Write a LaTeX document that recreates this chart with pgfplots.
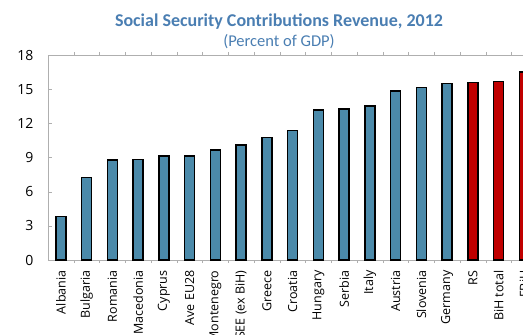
\documentclass[border=0pt]{standalone}
\usepackage{pgfplots}
\pgfplotsset{compat=1.18}
\usepackage{fontspec}
\setmainfont{Open Sans}
\newfontfamily\titlefont{Carlito}
\definecolor{barblue}{RGB}{75,138,170}
\definecolor{barred}{RGB}{192,0,0}
\definecolor{titleblue}{RGB}{74,126,178}
\definecolor{axgray}{RGB}{175,175,175}
\begin{document}
\begin{tikzpicture}
\useasboundingbox (0pt,0pt) rectangle (523pt,335pt);
\clip (0pt,0pt) rectangle (523pt,335pt);
\node[font=\titlefont\bfseries\fontsize{18}{20}\selectfont, text=titleblue] at (279pt,313pt) {Social Security Contributions Revenue, 2012};
\node[font=\titlefont\fontsize{16.5}{18}\selectfont, text=titleblue] at (279pt,293pt) {(Percent of GDP)};
\begin{axis}[
  at={(48pt,75pt)}, anchor=south west, scale only axis,
  width=489.25pt, height=205pt,
  xmin=-0.5, xmax=18.5, ymin=0, ymax=18,
  ytick={0,3,...,18},
  xtick={0,...,18},
  xticklabels={Albania,Bulgaria,Romania,Macedonia,Cyprus,Ave EU28,Montenegro,SEE (ex BiH),Greece,Croatia,Hungary,Serbia,Italy,Austria,Slovenia,Germany,RS,BiH total,FBiH},
  minor xtick={0.5,1.5,...,17.5},
  tick align=inside,
  major tick length=4pt,
  minor tick length=3pt,
  major x tick style={draw=none},
  minor x tick style={axgray},
  major y tick style={axgray},
  axis line style={axgray},
  /pgf/number format/assume math mode=true,
  yticklabel style={font=\fontsize{14}{16}\selectfont, xshift=-11pt},
  xticklabel style={yshift=-3pt, rotate=90, anchor=east, font=\fontsize{12.5}{14}\selectfont},
  ybar, bar width=10pt,
]
\addplot[fill=barblue, draw=black, line width=1.3pt, bar shift=0pt] coordinates {
(0,3.8) (1,7.23) (2,8.78) (3,8.84) (4,9.13) (5,9.13) (6,9.66) (7,10.1)
(8,10.76) (9,11.38) (10,13.17) (11,13.26) (12,13.52) (13,14.84) (14,15.13) (15,15.5)};
\addplot[fill=barred, draw=black, line width=1.3pt, bar shift=0pt] coordinates {
(16,15.6) (17,15.7) (18,16.5)};
\end{axis}
\end{tikzpicture}
\end{document}
